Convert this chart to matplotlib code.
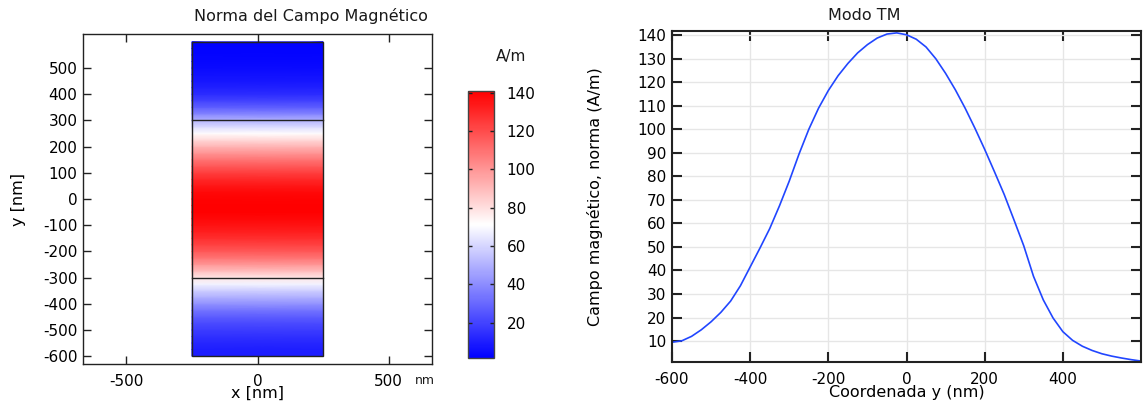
#!/bin/env python3
'''
Norma del campo magnetico: mapa 2D y corte a lo largo de y
'''
import matplotlib
matplotlib.use('Agg')
import matplotlib.pyplot as plt
from matplotlib.patches import Rectangle
import numpy as np

# coordenada y (nm) y norma del campo H (A/m)
y_nm = [-600, -575, -550, -525, -500, -475, -450, -425, -400, -375,
        -350, -325, -300, -275, -250, -225, -200, -175, -150, -125,
        -100, -75, -50, -25, 0, 25, 50, 75, 100, 125,
        150, 175, 200, 225, 250, 275, 300, 325, 350, 375,
        400, 425, 450, 475, 500, 525, 550, 575, 600]
h_norm = [9.5, 10.1, 12.0, 14.8, 18.2, 22.2, 27.0, 33.5, 41.5, 49.5,
          57.8, 67.5, 78.0, 89.5, 100.0, 109.0, 116.5, 122.8, 128.0, 132.5,
          136.0, 138.8, 140.5, 141.0, 140.2, 138.3, 135.0, 130.0, 123.8, 116.8,
          109.0, 100.5, 91.5, 82.0, 72.3, 61.5, 50.5, 37.5, 27.5, 19.8,
          14.0, 10.3, 7.8, 6.0, 4.6, 3.6, 2.8, 2.1, 1.5]

# geometria de la guia (nm)
domain_x = [-250, 250]
core_y = [-300, 300]

left_xticks = [-500, 0, 500]
left_yticks = list(range(-600, 501, 100))
cbar_ticks = list(range(20, 141, 20))
right_xticks = [-600, -400, -200, 0, 200, 400]
right_yticks = list(range(10, 141, 10))

plt.rcParams['font.family'] = 'DejaVu Sans'
plt.rcParams['axes.unicode_minus'] = False
plt.rcParams['xtick.direction'] = 'in'
plt.rcParams['ytick.direction'] = 'in'
plt.rcParams['xtick.top'] = True
plt.rcParams['ytick.right'] = True
plt.rcParams['xtick.labelsize'] = 11
plt.rcParams['ytick.labelsize'] = 11
plt.rcParams['text.color'] = '#1a1a1a'

W, H = 1145, 405
fig = plt.figure(figsize=(W / 100, H / 100), dpi=100)

def box(l, t, r, b):
    return [l / W, 1 - b / H, (r - l) / W, (b - t) / H]

# ---- mapa 2D ----
ax1 = fig.add_axes(box(83, 34, 432, 364))
yy = np.array(y_nm)
hh = np.array(h_norm)
C = np.column_stack([hh, hh])
X, Y = np.meshgrid(domain_x, yy)
mesh = ax1.pcolormesh(X, Y, C, cmap='bwr', shading='gouraud',
                      vmin=hh.min(), vmax=hh.max())
ax1.add_patch(Rectangle((domain_x[0], yy.min()), domain_x[1] - domain_x[0],
                        yy.max() - yy.min(), fill=False, ec='#222222', lw=1))
for yc in core_y:
    ax1.plot(domain_x, [yc, yc], color='#222222', lw=1)
ax1.set_xlim(-665, 665)
ax1.set_ylim(-630, 630)
ax1.set_xticks(left_xticks)
ax1.set_yticks(left_yticks)
ax1.tick_params(length=6, width=1, color='#222222', pad=4)
ax1.tick_params(axis='x', pad=7)
for s in ax1.spines.values():
    s.set_linewidth(1)
    s.set_color('#222222')
ax1.set_xlabel('x [nm]', fontsize=11.5)
ax1.xaxis.set_label_coords(0.5, (364 - 393) / 330)
ax1.xaxis.label.set_va('center')
ax1.set_ylabel('y [nm]', fontsize=11.5)
ax1.yaxis.set_label_coords((18 - 83) / 349, 0.5)
ax1.yaxis.label.set_va('center')
ax1.text((425 - 83) / 349, (364 - 381) / 330, 'nm', transform=ax1.transAxes,
         ha='center', va='center', fontsize=9)
fig.text(311 / W, 1 - 16 / H, 'Norma del Campo Magnético', ha='center',
         va='center', fontsize=11.5)

# ---- barra de color ----
cax = fig.add_axes(box(468, 91, 494, 358))
cb = fig.colorbar(mesh, cax=cax, ticks=cbar_ticks)
cb.outline.set_edgecolor('#444444')
cb.outline.set_linewidth(1)
cax.tick_params(axis='y', direction='in', left=True, right=True, length=3,
                width=1, color='#222222', pad=9, labelsize=11)
fig.text(510.7 / W, 1 - 57 / H, 'A/m', ha='center', va='center', fontsize=11)

# ---- corte en y ----
ax2 = fig.add_axes(box(672, 31, 1141, 362))
ax2.plot(y_nm, h_norm, color='#2146ff', lw=1.2)
ax2.set_xlim(-600, 600)
ax2.set_ylim(1.1, 141.8)
ax2.set_xticks(right_xticks)
ax2.set_yticks(right_yticks)
ax2.grid(True, color='#e6e6e6', lw=1)
ax2.set_axisbelow(True)
ax2.tick_params(length=7, width=1.5, color='#222222', pad=4)
ax2.tick_params(axis='x', pad=7)
for s in ax2.spines.values():
    s.set_linewidth(1.5)
    s.set_color('#222222')
ax2.set_xlabel('Coordenada y (nm)', fontsize=11.5)
ax2.xaxis.set_label_coords(0.5, (362 - 393) / 331)
ax2.xaxis.label.set_va('center')
ax2.set_ylabel('Campo magnético, norma (A/m)', fontsize=11.5)
ax2.yaxis.set_label_coords((595 - 672) / 469, 0.5)
ax2.yaxis.label.set_va('center')
fig.text(864 / W, 1 - 15 / H, 'Modo TM', ha='center', va='center',
         fontsize=11.5)

fig.savefig('out.png', dpi=100)
